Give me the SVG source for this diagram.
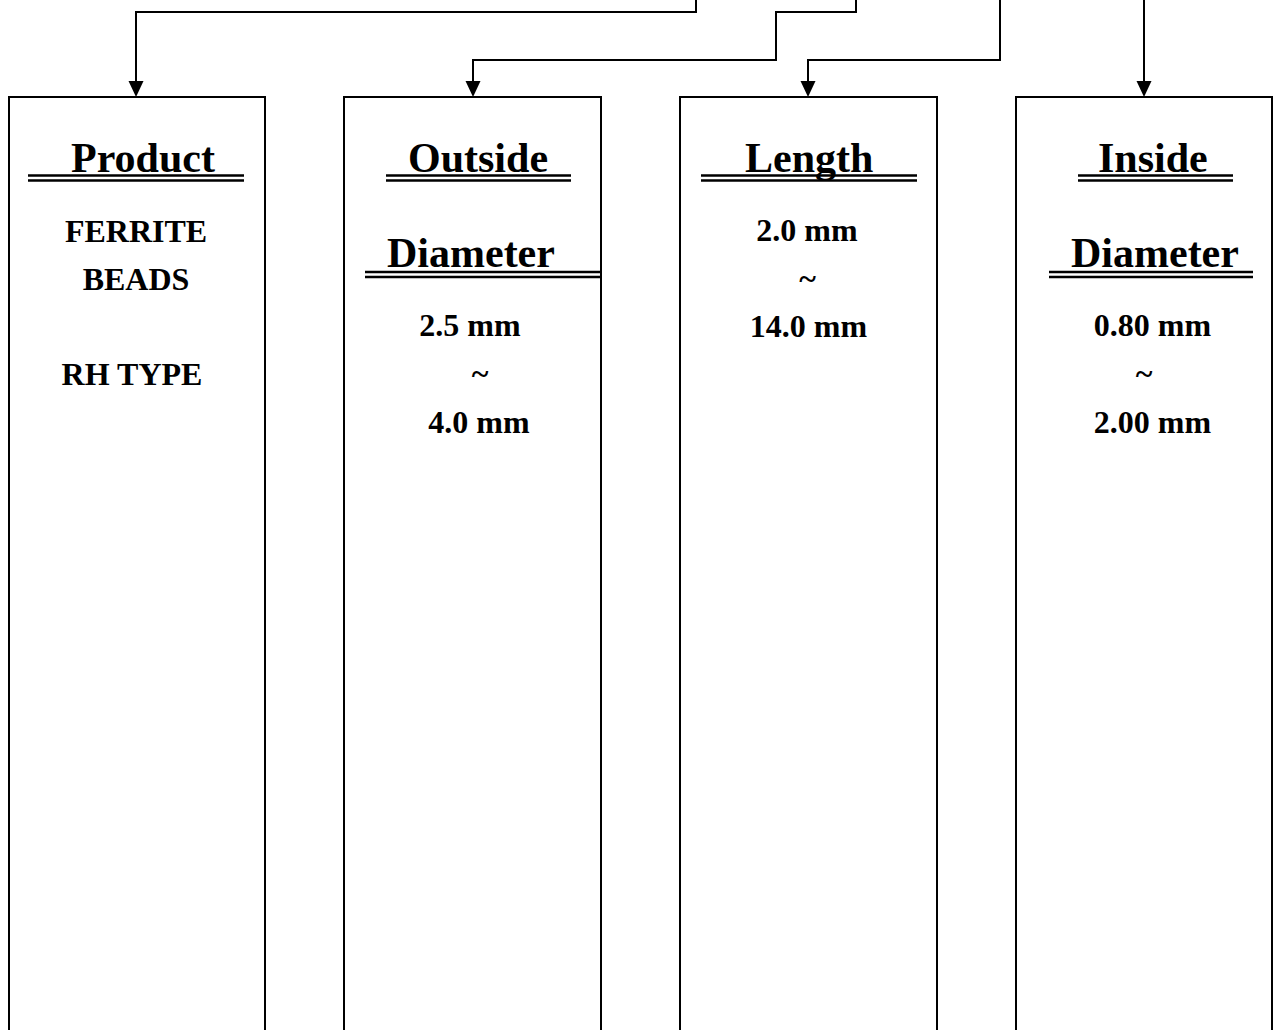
<svg xmlns="http://www.w3.org/2000/svg" width="1273" height="1030" viewBox="0 0 1273 1030">
<defs>
<style>
.box{fill:#fff;stroke:#000;stroke-width:2}
.conn{fill:none;stroke:#000;stroke-width:2}
.ttl{font-family:"Liberation Serif","Times New Roman",serif;font-weight:bold;font-size:42px;fill:#000}
.val{font-family:"Liberation Serif","Times New Roman",serif;font-weight:bold;font-size:32px;fill:#000;text-anchor:middle}
.ul{stroke:#000;stroke-width:2.5}
.ah{fill:#000}
</style>
</defs>
<rect width="1273" height="1030" fill="#fff"/>
<g id="connectors">
<path class="conn" d="M696,0 V12 H136 V82"/>
<path class="ah" d="M128.5,81 L143.5,81 L136,97 Z"/>
<path class="conn" d="M856,0 V12 H776 V60 H473 V82"/>
<path class="ah" d="M465.5,81 L480.5,81 L473,97 Z"/>
<path class="conn" d="M1000,0 V60 H808 V82"/>
<path class="ah" d="M800.5,81 L815.5,81 L808,97 Z"/>
<path class="conn" d="M1144,0 V82"/>
<path class="ah" d="M1136.5,81 L1151.5,81 L1144,97 Z"/>
</g>
<g id="product">
<rect class="box" x="9" y="97" width="256" height="960"/>
<text class="ttl" x="71" y="172">Product</text>
<line class="ul" x1="28" y1="175.5" x2="244" y2="175.5"/>
<line class="ul" x1="28" y1="180.5" x2="244" y2="180.5"/>
<text class="val" x="136" y="241.5">FERRITE</text>
<text class="val" x="136" y="289.5">BEADS</text>
<text class="val" x="132" y="385">RH TYPE</text>
</g>
<g id="outside-diameter">
<rect class="box" x="344" y="97" width="257" height="960"/>
<text class="ttl" x="408" y="172">Outside</text>
<line class="ul" x1="386" y1="175.5" x2="571" y2="175.5"/>
<line class="ul" x1="386" y1="180.5" x2="571" y2="180.5"/>
<text class="ttl" x="387" y="267">Diameter</text>
<line class="ul" x1="365" y1="272" x2="600" y2="272"/>
<line class="ul" x1="365" y1="277" x2="600" y2="277"/>
<text class="val" x="470" y="336">2.5 mm</text>
<text class="val" x="480" y="384">~</text>
<text class="val" x="479" y="432.5">4.0 mm</text>
</g>
<g id="length">
<rect class="box" x="680" y="97" width="257" height="960"/>
<text class="ttl" x="745" y="172">Length</text>
<line class="ul" x1="701" y1="175.5" x2="917" y2="175.5"/>
<line class="ul" x1="701" y1="180.5" x2="917" y2="180.5"/>
<text class="val" x="807" y="240.5">2.0 mm</text>
<text class="val" x="807.5" y="288.5">~</text>
<text class="val" x="808.5" y="336.5">14.0 mm</text>
</g>
<g id="inside-diameter">
<rect class="box" x="1016" y="97" width="256" height="960"/>
<text class="ttl" x="1098" y="172">Inside</text>
<line class="ul" x1="1078" y1="175.5" x2="1233" y2="175.5"/>
<line class="ul" x1="1078" y1="180.5" x2="1233" y2="180.5"/>
<text class="ttl" x="1071" y="267">Diameter</text>
<line class="ul" x1="1049" y1="272" x2="1253" y2="272"/>
<line class="ul" x1="1049" y1="277" x2="1253" y2="277"/>
<text class="val" x="1152.5" y="336">0.80 mm</text>
<text class="val" x="1144" y="384">~</text>
<text class="val" x="1152.5" y="433">2.00 mm</text>
</g>
</svg>
